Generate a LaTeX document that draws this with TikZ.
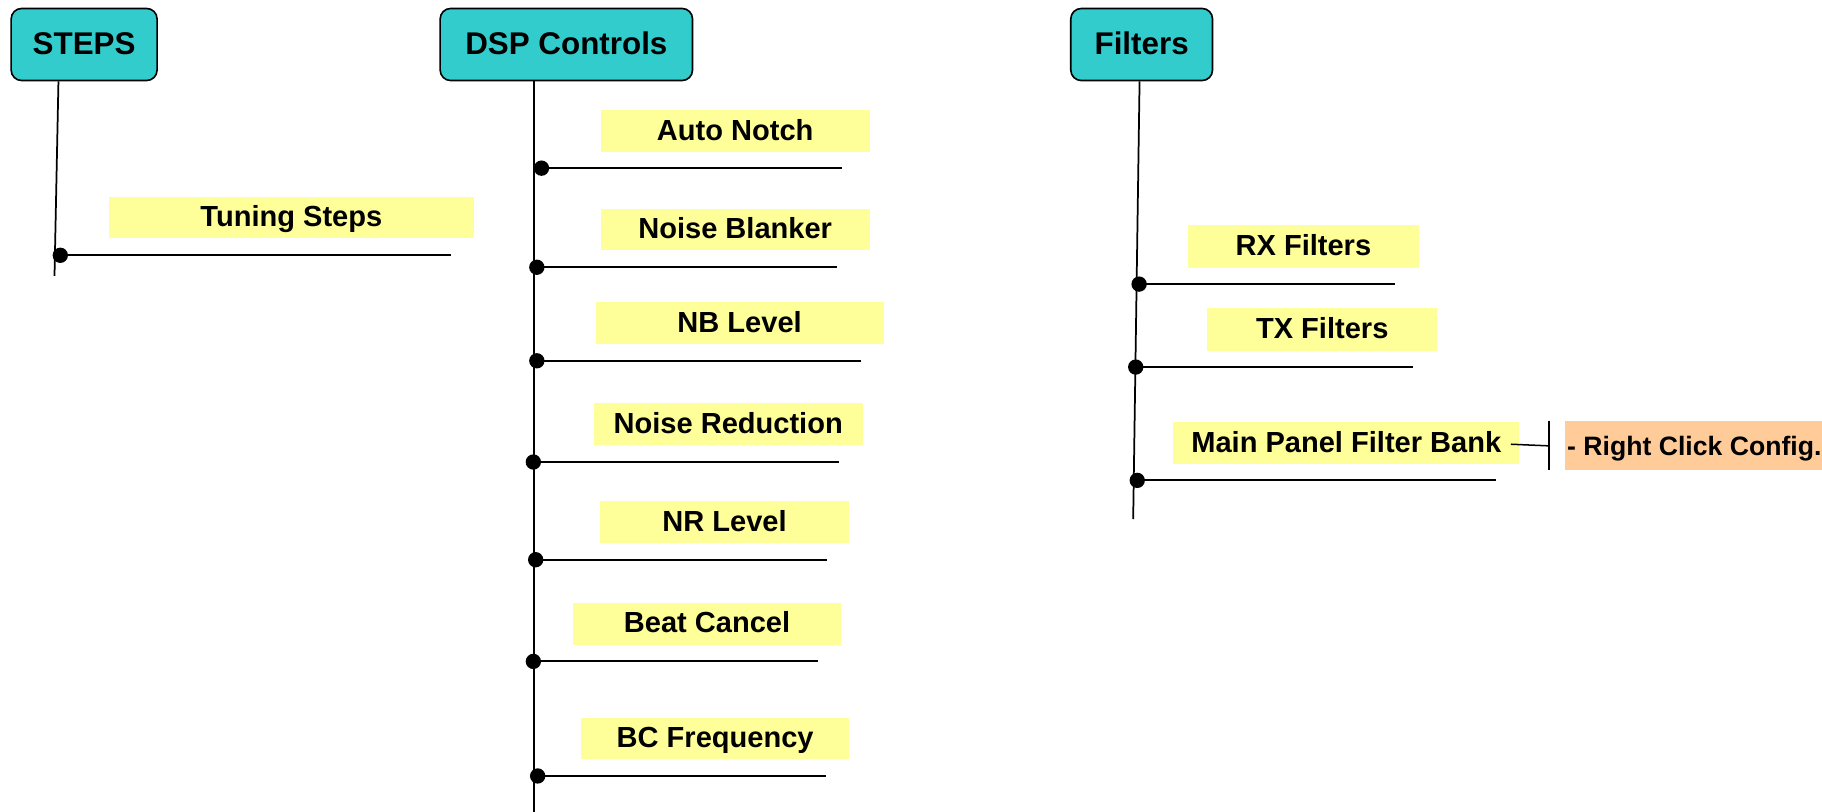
\documentclass[tikz,border=0pt]{standalone}
\usepackage{fontspec}
\setmainfont{Liberation Sans}
\definecolor{hdrcol}{HTML}{33CCCC}
\definecolor{lblcol}{HTML}{FFFF99}
\definecolor{orgcol}{HTML}{FFCC99}
\begin{document}
\begin{tikzpicture}[x=1pt,y=-1pt,
  hdrbox/.style={draw=black,line width=1.4pt,fill=hdrcol,rounded corners=9pt,inner sep=0pt,
    minimum height=62pt,font=\bfseries\fontsize{27}{32}\selectfont,text height=17.5pt,text depth=0pt},
  lblbox/.style={fill=lblcol,inner sep=0pt,minimum height=36pt,text height=16pt,text depth=0pt,
    font=\bfseries\fontsize{25}{30}\selectfont},
  orgbox/.style={fill=orgcol,inner xsep=1.5pt,inner ysep=0pt,minimum height=43pt,text height=18pt,text depth=0pt,
    font=\bfseries\fontsize{22.9}{27}\selectfont},
  trunk/.style={line width=1.5pt},
  branch/.style={line width=1.6pt},
  thinline/.style={line width=1.3pt},
  bullet/.style={fill=black}
]
\useasboundingbox (0,0) rectangle (1568,698);
\clip (0,0) rectangle (1568,698);

% headers
\node[hdrbox,minimum width=125.6pt] (steps) at (72.4,38.3) {STEPS};
\node[hdrbox,minimum width=217.2pt] (dsp) at (487.4,38.3) {DSP Controls};
\node[hdrbox,minimum width=122pt] (filters) at (982.5,38.3) {Filters};

% labels
\node[lblbox,minimum width=314pt] (tuning) at (250.7,187.2) {Tuning Steps};

\node[lblbox,minimum width=231.5pt] (an) at (632.7,112.5) {Auto Notch};
\node[lblbox,minimum width=231.5pt] (nb) at (632.7,197.5) {Noise Blanker};
\node[lblbox,minimum width=248pt] (nbl) at (636.5,278.2) {NB Level};
\node[lblbox,minimum width=231.4pt] (nr) at (626.7,365) {Noise Reduction};
\node[lblbox,minimum width=215pt] (nrl) at (623.5,449) {NR Level};
\node[lblbox,minimum width=231pt] (bcan) at (608.5,536.7) {Beat Cancel};
\node[lblbox,minimum width=231pt] (bcf) at (615.5,635.5) {BC Frequency};

\node[lblbox,minimum width=198.7pt,minimum height=36.8pt] (rx) at (1121.7,211.9) {RX Filters};
\node[lblbox,minimum width=198.2pt,minimum height=36.5pt] (tx) at (1137.9,283.5) {TX Filters};
\node[lblbox,minimum width=297.9pt,minimum height=36.5pt] (mpfb) at (1158.6,381.3) {Main Panel Filter Bank};
\node[orgbox,anchor=west] (rcc) at (1347,383.4) {- Right Click Config.};

% STEPS trunk and branch
\coordinate (stop) at ([xshift=-22.1pt]steps.south);
\coordinate (send) at (46.9,237.5);
\draw[trunk] (stop) -- (send);
\coordinate (tsb) at (51.9,219.7);
\coordinate (tse) at (388,219.7);
\draw[branch] (tsb) -- (tse);
\fill[bullet] (tsb) circle (6.6pt);

% DSP trunk
\coordinate (dtop) at ([xshift=-27.9pt]dsp.south);
\coordinate (dend) at (459.5,700);
\draw[trunk] (dtop) -- (dend);
\foreach \n/\bx/\ex/\yy in {an/466/725/144.7, nb/462/720/230, nbl/462/740.7/310.5, nr/459/722/397.6,
    nrl/461/711.4/481.7, bcan/459/704/569.2, bcf/462.7/711/667.8}{
  \coordinate (\n b) at (\bx,\yy);
  \coordinate (\n e) at (\ex,\yy);
  \draw[branch] (\n b) -- (\n e);
  \fill[bullet] (\n b) circle (6.6pt);
}

% Filters trunk
\coordinate (ftop) at ([xshift=-1.8pt]filters.south);
\coordinate (fend) at (975.2,446.8);
\draw[trunk] (ftop) -- (fend);
\foreach \n/\bx/\ex/\yy in {rx/980.3/1200.7/244.5, tx/977.4/1216.4/315.9, mpfb/978.7/1287.2/413.4}{
  \coordinate (\n b) at (\bx,\yy);
  \coordinate (\n e) at (\ex,\yy);
  \draw[branch] (\n b) -- (\n e);
  \fill[bullet] (\n b) circle (6.6pt);
}

% connector to Right Click Config.
\coordinate (bar) at (1333,383.7);
\coordinate (bartop) at (1333,362);
\coordinate (barbot) at (1333,404.8);
\draw[thinline] ([xshift=-7.5pt,yshift=-1pt]mpfb.east) -- (bar);
\draw[thinline] (bartop) -- (barbot);
\end{tikzpicture}
\end{document}
